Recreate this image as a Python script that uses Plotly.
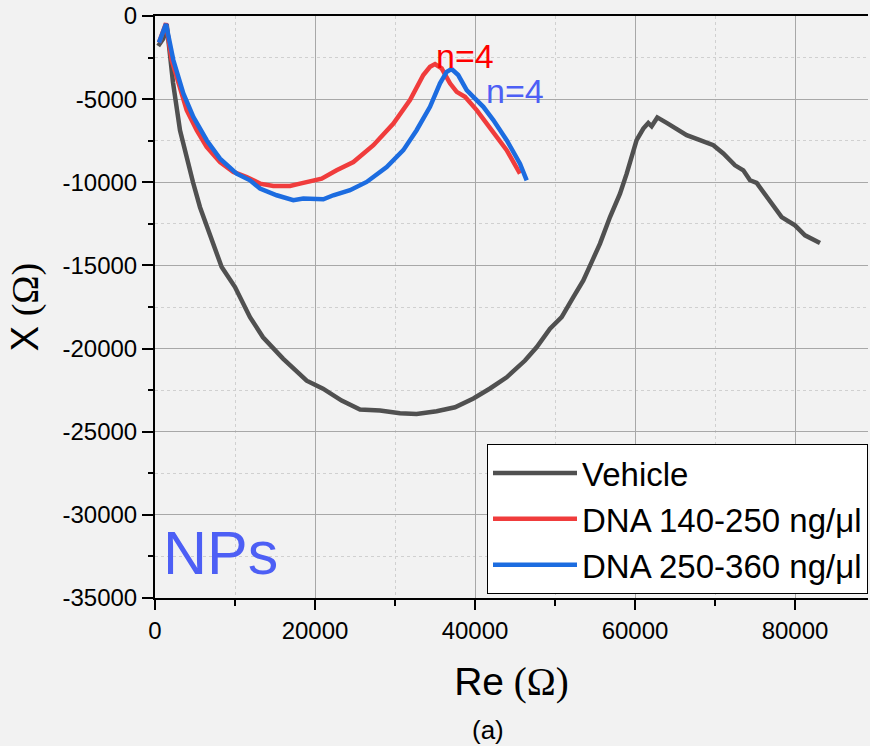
import plotly.graph_objects as go

# ---- data ----
vehicle_re = [400, 625, 1040, 1460, 2250, 3125, 4000, 4750, 5625, 6875, 8333, 10000, 11875, 13500,
              16000, 18960, 21000, 23330, 25625, 28125, 30625, 32700, 35200, 37500, 39800, 41875,
              43960, 46250, 47700, 49375, 50830, 52290, 53540, 54580, 55625, 56875, 58125, 58960,
              59580, 60200, 61040, 61660, 62080, 62790, 63960, 65210, 66460, 68125, 69790, 71040,
              72500, 73540, 74375, 75210, 76875, 78330, 80000, 81250, 83125]
vehicle_x = [-1800, -1650, -1350, -500, -4000, -6870, -8600, -10000, -11500, -13190, -15100, -16300,
             -18110, -19320, -20600, -21930, -22410, -23130, -23670, -23730, -23890, -23930, -23770,
             -23530, -23000, -22400, -21730, -20720, -19920, -18810, -18110, -16910, -15900, -14800,
             -13690, -12090, -10680, -9480, -8480, -7470, -6770, -6430, -6630, -6100, -6430, -6770,
             -7170, -7470, -7770, -8270, -8980, -9280, -9880, -10040, -11080, -12090, -12590,
             -13190, -13650]

dna140_re = [500, 1375, 2080, 2920, 3960, 5210, 6460, 8125, 9790, 11460, 13125, 14790, 16875, 18125,
             19375, 20830, 22700, 24800, 27300, 29800, 31875, 33540, 34375, 35000, 35830, 36875,
             37710, 38750, 40210, 41875, 43960, 45625]
dna140_x = [-1600, -440, -2650, -4050, -5660, -6870, -7870, -8780, -9380, -9680, -10080, -10220,
            -10220, -10080, -9920, -9780, -9280, -8780, -7770, -6470, -5060, -3550, -3050, -2890,
            -3150, -4050, -4560, -4860, -5660, -6770, -8070, -9480]

dna250_re = [500, 1375, 2290, 3540, 4790, 6460, 8125, 10210, 11875, 13125, 15210, 17290, 18540,
             21040, 22290, 24375, 26460, 28960, 31040, 32700, 34375, 35625, 36460, 37080, 37900,
             38960, 39790, 41040, 42290, 43960, 45625, 46460]
dna250_x = [-1600, -480, -2650, -4660, -6070, -7470, -8580, -9480, -9880, -10380, -10780, -11080,
            -10980, -11020, -10780, -10480, -9980, -9080, -8070, -6870, -5460, -4050, -3360, -3190,
            -3550, -4460, -4860, -5460, -6260, -7470, -8880, -9880]

series_names = ["Vehicle", "DNA 140-250 ng/\u03bcl", "DNA 250-360 ng/\u03bcl"]
series_colors = ["#505050", "#F03C3C", "#1C6CE0"]

x_range = [0, 89125]
y_range = [-35000, 0]
x_tickvals = [0, 20000, 40000, 60000, 80000]
y_tickvals = [0, -5000, -10000, -15000, -20000, -25000, -30000, -35000]

fig = go.Figure()
for xs, ys, name, col in zip([vehicle_re, dna140_re, dna250_re],
                             [vehicle_x, dna140_x, dna250_x],
                             series_names, series_colors):
    fig.add_trace(go.Scatter(x=xs, y=ys, mode="lines", name=name,
                             line=dict(color=col, width=4.5)))

sans = "Liberation Sans, Arial, sans-serif"
serif = "Liberation Serif, Times New Roman, serif"

fig.update_layout(
    width=870, height=746,
    margin=dict(l=155, r=2, t=16, b=148),
    paper_bgcolor="#F2F2F2", plot_bgcolor="#F2F2F2",
    font=dict(family=sans, color="black"),
    showlegend=True,
    legend=dict(x=1, y=0.007, xanchor="right", yanchor="bottom",
                bgcolor="white", bordercolor="black", borderwidth=1,
                font=dict(size=33, family=sans, color="black"),
                itemwidth=84, tracegroupgap=0),
)

fig.update_xaxes(
    range=x_range, tickvals=x_tickvals, ticktext=[str(v) for v in x_tickvals],
    showline=True, linecolor="black", linewidth=2, mirror=True,
    ticks="outside", ticklen=10, tickwidth=2, tickcolor="black",
    tickfont=dict(size=24, family=sans),
    showgrid=True, gridcolor="#A8A8A8", gridwidth=1, zeroline=False,
    minor=dict(dtick=10000, tick0=0, ticks="outside", ticklen=6, tickwidth=1.5,
               tickcolor="black", showgrid=True, gridcolor="#D0D0D0", griddash="dot"),
    title=dict(text='<span style="font-family:Liberation Sans">Re</span> (\u03a9)',
               font=dict(size=39, family=serif), standoff=25),
)
fig.update_yaxes(
    range=y_range, tickvals=y_tickvals, ticktext=[str(v) for v in y_tickvals],
    showline=True, linecolor="black", linewidth=2, mirror=False,
    ticks="outside", ticklen=11, tickwidth=2, tickcolor="black",
    tickfont=dict(size=24, family=sans),
    showgrid=True, gridcolor="#A8A8A8", gridwidth=1, zeroline=False,
    minor=dict(dtick=2500, tick0=0, ticks="outside", ticklen=5, tickwidth=1.5,
               tickcolor="black", showgrid=True, gridcolor="#D0D0D0", griddash="dot"),
    title=dict(text='<span style="font-family:Liberation Sans">X</span> (\u03a9)',
               font=dict(size=38, family=serif), standoff=12),
)

fig.add_annotation(x=38690, y=-2400, text="n=4", showarrow=False,
                   font=dict(size=34, color="#FF0000", family=sans))
fig.add_annotation(x=45000, y=-4500, text="n=4", showarrow=False,
                   font=dict(size=34, color="#4D5FF5", family=sans))
fig.add_annotation(x=8125, y=-32300, text="NPs", showarrow=False,
                   font=dict(size=61, color="#4D5FF5", family=sans))
fig.add_annotation(x=0.467, y=-0.2268, xref="paper", yref="paper", text="(a)",
                   xanchor="center", yanchor="middle",
                   showarrow=False, font=dict(size=26, family=sans))

fig.write_html("out.html")
